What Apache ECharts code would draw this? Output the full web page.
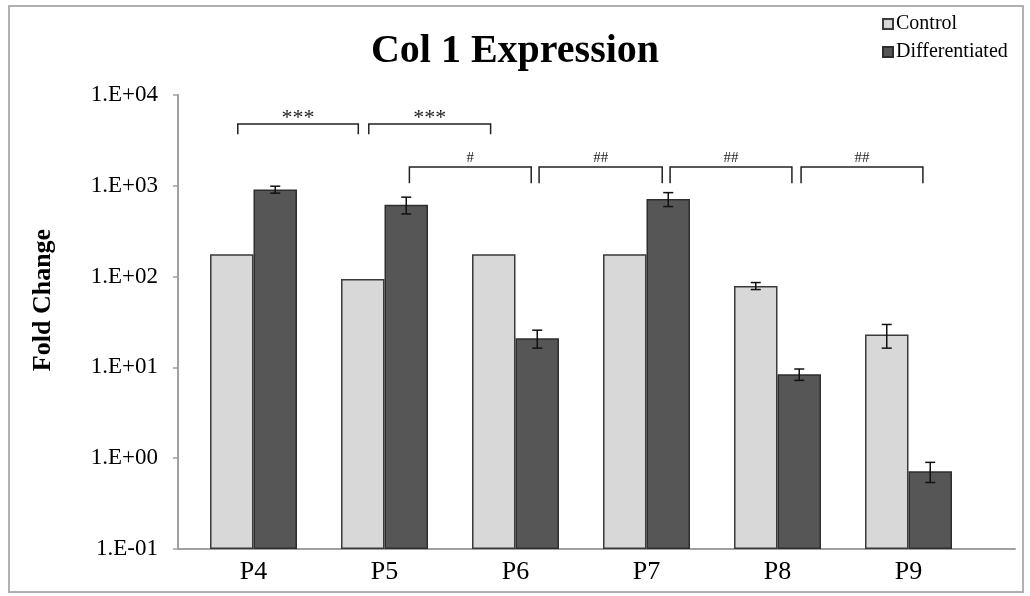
<!DOCTYPE html>
<html>
<head>
<meta charset="utf-8">
<script src="https://cdn.jsdelivr.net/npm/echarts@6/dist/echarts.min.js"></script>
<style>
  html, body { margin: 0; padding: 0; background: #ffffff; }
  #chart { width: 1030px; height: 596px; }
</style>
</head>
<body>
<div id="chart"></div>
<script>
// Passage numbers on the category axis
const categories = ['P4', 'P5', 'P6', 'P7', 'P8', 'P9'];
// Col 1 fold change (mean and error) for each group
const controlMean = [176, 94, 176, 176, 79, 23];
const controlErr = [0, 0, 0, 0, 7, 6.7];
const diffMean = [910, 620, 21, 716, 8.4, 0.72];
const diffErr = [80, 130, 4.7, 125, 1.2, 0.18];
// Log axis tick labels, from 1E-01 up to 1E+04
const yTickLabels = ['1.E-01', '1.E+00', '1.E+01', '1.E+02', '1.E+03', '1.E+04'];
// Significance brackets: span in category units, bracket level, leg end, mark
const bracketFrom = [-0.12, 0.88, 1.19, 2.18, 3.18, 4.18];
const bracketTo = [0.80, 1.81, 2.12, 3.12, 4.11, 5.11];
const bracketLevel = [4800, 4800, 1610, 1610, 1610, 1610];
const bracketLegEnd = [3700, 3700, 1070, 1070, 1070, 1070];
const bracketLabels = ['***', '***', '#', '##', '##', '##'];

const SERIF = '"Liberation Serif", "DejaVu Serif", serif';
const CAT_GAP = 0.336; // fraction of a category left empty around the bar pair

const chart = echarts.init(document.getElementById('chart'), null, { renderer: 'canvas' });

function errorBarRenderer(means, errs, side) {
  return function (params, api) {
    const idx = api.value(0);
    const err = errs[idx];
    if (!err) return null;
    const mean = means[idx];
    const catW = api.size([1, 0])[0];
    const barW = catW * (1 - CAT_GAP) / 2;
    const cx = api.coord([idx, mean])[0] + side * barW / 2;
    const yTop = api.coord([idx, mean + err])[1];
    const yBot = api.coord([idx, mean - err])[1];
    const cap = 5;
    const st = { stroke: '#111', lineWidth: 1.5 };
    return {
      type: 'group',
      children: [
        { type: 'line', shape: { x1: cx, y1: yTop, x2: cx, y2: yBot }, style: st },
        { type: 'line', shape: { x1: cx - cap, y1: yTop, x2: cx + cap, y2: yTop }, style: st },
        { type: 'line', shape: { x1: cx - cap, y1: yBot, x2: cx + cap, y2: yBot }, style: st }
      ]
    };
  };
}

function bracketRenderer(params, api) {
  const i = params.dataIndex;
  const catW = api.size([1, 0])[0];
  const x0 = api.coord([0, bracketLevel[i]])[0];
  const xa = x0 + bracketFrom[i] * catW;
  const xb = x0 + bracketTo[i] * catW;
  const yL = api.coord([0, bracketLevel[i]])[1];
  const yE = api.coord([0, bracketLegEnd[i]])[1];
  const star = bracketLabels[i].indexOf('*') >= 0;
  return {
    type: 'group',
    children: [
      {
        type: 'polyline',
        shape: { points: [[xa, yE], [xa, yL], [xb, yL], [xb, yE]] },
        style: { stroke: '#222', lineWidth: 1.5, fill: null }
      },
      {
        type: 'text',
        style: {
          text: bracketLabels[i],
          x: (xa + xb) / 2,
          y: yL - (star ? 6 : 9),
          align: 'center',
          verticalAlign: 'middle',
          font: (star ? '22px ' : '15px ') + SERIF,
          fill: '#222'
        }
      }
    ]
  };
}

const option = {
  animation: false,
  backgroundColor: '#ffffff',
  title: {
    text: 'Col 1 Expression',
    left: 'center',
    top: 27,
    textStyle: { fontFamily: SERIF, fontWeight: 'bold', fontSize: 40, color: '#000' }
  },
  legend: {
    orient: 'vertical',
    left: 877,
    top: 9,
    itemWidth: 10,
    itemHeight: 10,
    itemGap: 8,
    icon: 'rect',
    textStyle: { fontFamily: SERIF, fontSize: 20, color: '#000', padding: [0, 0, 0, -2] },
    data: ['Control', 'Differentiated']
  },
  graphic: [
    {
      type: 'rect',
      shape: { x: 9, y: 6, width: 1014, height: 586 },
      style: { fill: null, stroke: '#b0b0b0', lineWidth: 2 },
      silent: true
    }
  ],
  grid: [
    { left: 188, right: 56, top: 95, bottom: 47 },
    { left: 178, right: 15, top: 95, bottom: 47 }
  ],
  xAxis: [
    {
      type: 'category',
      gridIndex: 0,
      data: categories,
      axisLine: { show: false },
      axisTick: { show: false },
      axisLabel: { fontFamily: SERIF, fontSize: 26, color: '#000', margin: 10 }
    },
    {
      type: 'value',
      gridIndex: 1,
      min: 0, max: 1,
      axisLine: { show: true, lineStyle: { color: '#a0a0a0', width: 2 } },
      axisTick: { show: false },
      axisLabel: { show: false },
      splitLine: { show: false }
    }
  ],
  yAxis: [
    {
      type: 'log',
      gridIndex: 0,
      logBase: 10,
      min: 0.1,
      max: 10000,
      startValue: 0.1,
      interval: 1,
      offset: 10,
      name: 'Fold Change',
      nameLocation: 'middle',
      nameGap: 122,
      nameRotate: 90,
      nameTextStyle: { fontFamily: SERIF, fontWeight: 'bold', fontSize: 26, color: '#000', padding: [0, 0, 0, 44] },
      axisLine: { show: true, lineStyle: { color: '#a0a0a0', width: 2 } },
      axisTick: { show: true, length: 5, lineStyle: { color: '#a0a0a0', width: 1.5 } },
      axisLabel: {
        fontFamily: SERIF, fontSize: 23, color: '#000', margin: 20,
        formatter: function (v) {
          const e = Math.round(Math.log10(v));
          return yTickLabels[e + 1];
        }
      },
      splitLine: { show: false }
    },
    {
      type: 'value',
      gridIndex: 1,
      show: false,
      min: 0, max: 1
    }
  ],
  series: [
    {
      name: 'Control',
      type: 'bar',
      xAxisIndex: 0, yAxisIndex: 0,
      data: controlMean,
      barGap: '0%',
      barCategoryGap: (CAT_GAP * 100) + '%',
      itemStyle: { color: '#d8d8d8', borderColor: '#3a3a3a', borderWidth: 1.5 }
    },
    {
      name: 'Differentiated',
      type: 'bar',
      xAxisIndex: 0, yAxisIndex: 0,
      data: diffMean,
      barGap: '0%',
      barCategoryGap: (CAT_GAP * 100) + '%',
      itemStyle: { color: '#565656', borderColor: '#2e2e2e', borderWidth: 1.5 }
    },
    {
      type: 'custom',
      xAxisIndex: 0, yAxisIndex: 0,
      renderItem: errorBarRenderer(controlMean, controlErr, -1),
      data: controlMean.map((v, i) => [i, v]),
      silent: true, z: 5
    },
    {
      type: 'custom',
      xAxisIndex: 0, yAxisIndex: 0,
      renderItem: errorBarRenderer(diffMean, diffErr, 1),
      data: diffMean.map((v, i) => [i, v]),
      silent: true, z: 5
    },
    {
      type: 'custom',
      xAxisIndex: 0, yAxisIndex: 0,
      renderItem: bracketRenderer,
      data: bracketLabels.map((t, i) => [i, bracketLevel[i]]),
      silent: true, z: 6,
      clip: false
    }
  ]
};

chart.setOption(option);
</script>
</body>
</html>
